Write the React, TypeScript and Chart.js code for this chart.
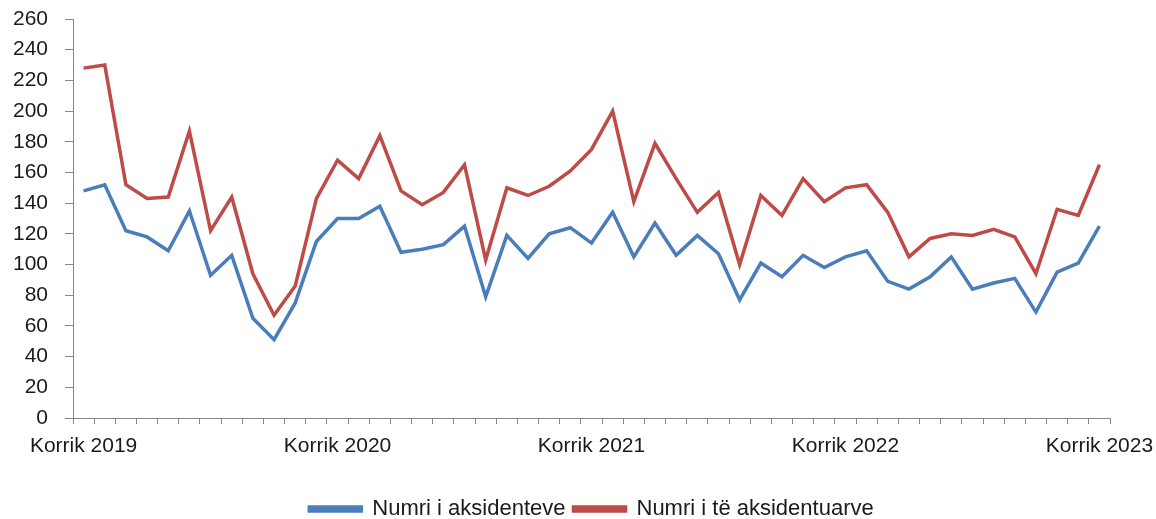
import React, { useEffect, useRef } from "react";
import { Chart, registerables } from "chart.js";

Chart.register(...registerables);

const months: string[] = [
  "Korrik 2019", "Gusht 2019", "Shtator 2019", "Tetor 2019", "Nëntor 2019", "Dhjetor 2019",
  "Janar 2020", "Shkurt 2020", "Mars 2020", "Prill 2020", "Maj 2020", "Qershor 2020",
  "Korrik 2020", "Gusht 2020", "Shtator 2020", "Tetor 2020", "Nëntor 2020", "Dhjetor 2020",
  "Janar 2021", "Shkurt 2021", "Mars 2021", "Prill 2021", "Maj 2021", "Qershor 2021",
  "Korrik 2021", "Gusht 2021", "Shtator 2021", "Tetor 2021", "Nëntor 2021", "Dhjetor 2021",
  "Janar 2022", "Shkurt 2022", "Mars 2022", "Prill 2022", "Maj 2022", "Qershor 2022",
  "Korrik 2022", "Gusht 2022", "Shtator 2022", "Tetor 2022", "Nëntor 2022", "Dhjetor 2022",
  "Janar 2023", "Shkurt 2023", "Mars 2023", "Prill 2023", "Maj 2023", "Qershor 2023",
  "Korrik 2023",
];

const shownLabels: string[] = ["Korrik 2019", "Korrik 2020", "Korrik 2021", "Korrik 2022", "Korrik 2023"];

const accidents: number[] = [
  148, 152, 122, 118, 109, 135, 93, 106, 65, 51, 75, 115,
  130, 130, 138, 108, 110, 113, 125, 79, 119, 104, 120, 124,
  114, 134, 105, 127, 106, 119, 107, 77, 101, 92, 106, 98,
  105, 109, 89, 84, 92, 105, 84, 88, 91, 69, 95, 101,
  125,
];

const injured: number[] = [
  228, 230, 152, 143, 144, 187, 122, 144, 94, 67, 86, 143,
  168, 156, 184, 148, 139, 147, 165, 103, 150, 145, 151, 161,
  175, 200, 141, 179, 156, 134, 147, 100, 145, 132, 156, 141,
  150, 152, 134, 105, 117, 120, 119, 123, 118, 94, 136, 132,
  165,
];

const yTicks: number[] = [0, 20, 40, 60, 80, 100, 120, 140, 160, 180, 200, 220, 240, 260];

const FONT = "'Liberation Sans', Arial, sans-serif";
const AXIS = "#868686";
const TEXT = "#1a1a1a";

export default function App() {
  const ref = useRef<HTMLCanvasElement | null>(null);

  useEffect(() => {
    document.body.style.margin = "0";
    const ctx = ref.current;
    if (!ctx) return;
    const chart = new Chart(ctx, {
      type: "line",
      data: {
        labels: months,
        datasets: [
          {
            label: "Numri i aksidenteve",
            data: accidents,
            borderColor: "#4A7EBB",
            backgroundColor: "#4A7EBB",
            borderWidth: 3.5,
            pointRadius: 0,
            tension: 0,
          },
          {
            label: "Numri i të aksidentuarve",
            data: injured,
            borderColor: "#BE4B48",
            backgroundColor: "#BE4B48",
            borderWidth: 3.5,
            pointRadius: 0,
            tension: 0,
          },
        ],
      },
      options: {
        responsive: false,
        animation: false,
        maintainAspectRatio: false,
        layout: { padding: { left: 0, right: 46, top: 19, bottom: 0 } },
        plugins: {
          tooltip: { enabled: false },
          legend: {
            position: "bottom",
            fullSize: false,
            maxHeight: 29,
            labels: {
              boxWidth: 52,
              boxHeight: 4,
              padding: 8,
              color: TEXT,
              font: { family: FONT, size: 22 },
            },
          },
        },
        scales: {
          x: {
            type: "category",
            offset: true,
            afterFit: (scale: any) => {
              scale.height = 72;
              scale.paddingLeft = 0;
              scale.paddingRight = 0;
            },
            grid: {
              display: true,
              offset: true,
              drawOnChartArea: false,
              drawTicks: true,
              tickLength: 6,
              tickColor: AXIS,
              color: AXIS,
            },
            border: { display: true, color: AXIS, width: 1 },
            ticks: {
              autoSkip: false,
              maxRotation: 0,
              minRotation: 0,
              padding: 10,
              color: TEXT,
              font: { family: FONT, size: 21 },
              callback: (_v: any, i: number) => (shownLabels.includes(months[i]) ? months[i] : ""),
            },
          },
          y: {
            min: 0,
            max: 260,
            afterBuildTicks: (scale: any) => {
              scale.ticks = yTicks.map((v) => ({ value: v }));
            },
            afterFit: (scale: any) => {
              scale.width = 73;
              scale.paddingTop = 0;
              scale.paddingBottom = 0;
            },
            grid: {
              display: true,
              drawOnChartArea: false,
              drawTicks: true,
              tickLength: 8,
              tickColor: AXIS,
              color: AXIS,
            },
            border: { display: true, color: AXIS, width: 1 },
            ticks: {
              padding: 17,
              color: TEXT,
              font: { family: FONT, size: 21 },
            },
          },
        },
      },
    });
    return () => chart.destroy();
  }, []);

  return (
    <div style={{ position: "absolute", left: 0, top: 0, width: 1156, height: 519, background: "#fff" }}>
      <canvas ref={ref} width={1156} height={519} style={{ width: 1156, height: 519 }} />
    </div>
  );
}
